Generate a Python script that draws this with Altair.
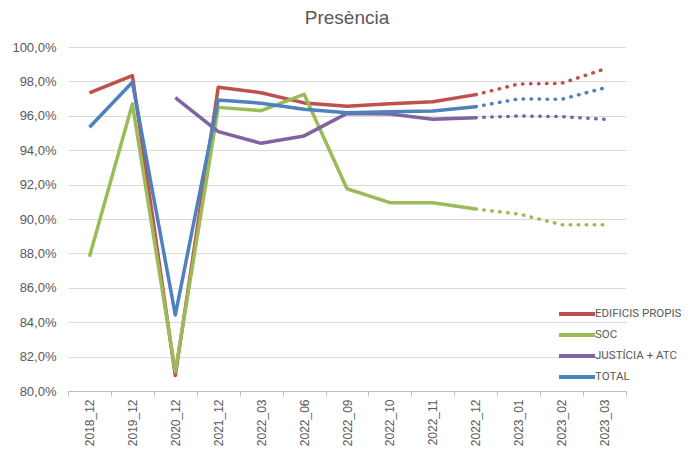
import altair as alt
import pandas as pd

categories = ["2018_12", "2019_12", "2020_12", "2021_12", "2022_03", "2022_06",
              "2022_09", "2022_10", "2022_11", "2022_12", "2023_01", "2023_02", "2023_03"]
series_names = ["EDIFICIS PROPIS", "SOC", "JUSTÍCIA + ATC", "TOTAL"]
edificis = [97.34, 98.33, 80.9, 97.66, 97.34, 96.75, 96.55, 96.7, 96.82, 97.23, 97.85, 97.89, 98.72]
soc = [87.81, 96.69, 81.12, 96.49, 96.3, 97.25, 91.76, 90.95, 90.95, 90.58, 90.29, 89.67, 89.67]
justicia = [None, None, 97.05, 95.08, 94.4, 94.83, 96.14, 96.1, 95.8, 95.89, 95.99, 95.95, 95.8]
total = [95.33, 97.95, 84.42, 96.92, 96.73, 96.38, 96.18, 96.24, 96.28, 96.53, 96.98, 96.96, 97.62]
colors = ["#C0504D", "#9BBB59", "#8064A2", "#4F81BD"]
y_ticks = [80, 82, 84, 86, 88, 90, 92, 94, 96, 98, 100]
split_cat = "2022_12"

rows = []
for k, (name, vals) in enumerate(zip(series_names, [edificis, soc, justicia, total])):
    for i, (c, v) in enumerate(zip(categories, vals)):
        if v is None:
            continue
        rows.append({"cat": c, "idx": i, "series": name, "value": v, "order": k})
df = pd.DataFrame(rows)
split_idx = categories.index(split_cat)
solid = df[df["idx"] <= split_idx]
dotted = df[df["idx"] >= split_idx]

x_enc = alt.X("cat:N", sort=categories, bandPosition=0.5,
              scale=alt.Scale(type="band", domain=categories, paddingInner=0, paddingOuter=0),
              axis=alt.Axis(title=None, labelAngle=-90, tickBand="extent", grid=False,
                            domainColor="#BFBFBF", tickColor="#BFBFBF", tickSize=5,
                            labelColor="#595959", labelFontSize=12, labelFont="Liberation Sans",
                            labelPadding=3, labelBaseline="middle", labelAlign="right"))
y_enc = alt.Y("value:Q", scale=alt.Scale(domain=[80, 100], nice=False, zero=False),
              axis=alt.Axis(title=None, values=y_ticks, domain=False, ticks=False,
                            labelExpr="replace(format(datum.value, '.1f'), '.', ',') + '%'",
                            gridColor="#D9D9D9", gridWidth=1, labelColor="#595959",
                            labelFontSize=13, labelFont="Liberation Sans", labelPadding=12))
color_scale = alt.Scale(domain=series_names, range=colors)

solid_layer = alt.Chart(solid).mark_line(strokeWidth=3.5, strokeJoin="round").encode(
    x=x_enc, y=y_enc,
    color=alt.Color("series:N", scale=color_scale, sort=series_names,
                    legend=alt.Legend(title=None, orient="none", legendX=501, legendY=259,
                                      symbolType="M-3,0H3", symbolSize=144, symbolStrokeWidth=4,
                                      labelFontSize=11.5, labelFont="Roboto",
                                      labelColor="#595959", labelOffset=10, rowPadding=5,
                                      padding=0)),
    order=alt.Order("order:Q"),
)
dotted_layer = alt.Chart(dotted).mark_line(strokeWidth=3.5, strokeDash=[0.5, 7.5], strokeCap="round").encode(
    x=x_enc, y=y_enc,
    color=alt.Color("series:N", scale=color_scale, sort=series_names, legend=None),
)

chart = alt.layer(solid_layer, dotted_layer).properties(
    width=558, height=344,
    title=alt.TitleParams("Presència", fontSize=19, color="#595959", font="Liberation Sans",
                          fontWeight="normal", anchor="middle", offset=13),
    autosize=alt.AutoSizeParams(type="none"),
    padding={"left": 60, "top": 39, "right": 58, "bottom": 55},
).configure_view(stroke=None)

chart.save("out.html", embed_options={"renderer": "svg", "actions": False})
